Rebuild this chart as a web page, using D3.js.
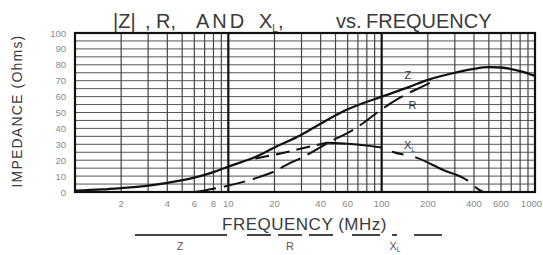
<!DOCTYPE html>
<html>
<head>
<meta charset="utf-8">
<script src="https://cdn.jsdelivr.net/npm/d3@7"></script>
<style>
  body { margin: 0; background: #fff; }
  svg text { font-family: "Liberation Sans", Arial, sans-serif; }
</style>
</head>
<body>
<div id="chart"></div>
<script>
// Curve data (frequency in MHz, impedance in ohms)
const zFreq = [1, 1.5, 2, 3, 4, 6, 8, 10, 15, 20, 30, 40, 60, 100, 150, 200, 300, 400, 500, 600, 800, 1000];
const zOhms = [0.8, 1.6, 2.5, 4, 5.7, 9, 12.5, 16, 22, 28, 36, 43, 52, 60, 66, 70.5, 75, 77.5, 78.5, 78.3, 76, 73];

const rFreq = [6, 7, 10, 16, 20, 25, 30, 45, 70, 100, 130, 200, 230];
const rOhms = [0, 1, 4, 9.5, 13, 18, 21.5, 31, 41, 52, 59, 68, 71];

const xlFreq = [15, 25, 32, 44, 60, 100, 120, 165, 250, 360, 430, 460];
const xlOhms = [21, 25.5, 28, 31, 30.3, 28, 25, 22, 14, 7.5, 1.5, 0];

const yTicks = [0, 10, 20, 30, 40, 50, 60, 70, 80, 90, 100];
const xTicks = [2, 4, 6, 8, 10, 20, 40, 60, 100, 200, 400, 600, 1000];

const W = 543, H = 255;
const svg = d3.select('#chart').append('svg')
  .attr('width', W)
  .attr('height', H);

const x = d3.scaleLog().domain([1, 1000]).range([75, 535]);
const y = d3.scaleLinear().domain([0, 100]).range([192, 33]);

// Grid - horizontal every 5 ohms
svg.append('g').selectAll('line')
  .data(d3.range(5, 100, 5))
  .enter().append('line')
    .attr('x1', x(1)).attr('x2', x(1000))
    .attr('y1', d => y(d)).attr('y2', d => y(d))
    .attr('stroke', '#555')
    .attr('stroke-width', 1);

// Grid - vertical log lines
const minor = [];
[1, 10, 100].forEach(dec => d3.range(2, 10).forEach(n => minor.push(n * dec)));
svg.append('g').selectAll('line')
  .data(minor)
  .enter().append('line')
    .attr('x1', d => x(d)).attr('x2', d => x(d))
    .attr('y1', y(0)).attr('y2', y(100))
    .attr('stroke', '#444')
    .attr('stroke-width', 1.2);

// decade lines
svg.append('g').selectAll('line')
  .data([10, 100])
  .enter().append('line')
    .attr('x1', d => x(d)).attr('x2', d => x(d))
    .attr('y1', y(0)).attr('y2', y(100))
    .attr('stroke', '#111')
    .attr('stroke-width', 2.2);

// frame
svg.append('rect')
  .attr('x', x(1)).attr('y', y(100))
  .attr('width', x(1000) - x(1))
  .attr('height', y(0) - y(100))
  .attr('fill', 'none')
  .attr('stroke', '#111')
  .attr('stroke-width', 2.2);

// tick labels
svg.append('g').selectAll('text')
  .data(yTicks)
  .enter().append('text')
    .attr('x', 66)
    .attr('y', d => y(d) + 3.5)
    .attr('text-anchor', 'end')
    .style('font-size', '9.5px')
    .style('fill', '#888')
    .text(d => d);

svg.append('g').selectAll('text')
  .data(xTicks)
  .enter().append('text')
    .attr('x', d => d === 1000 ? W - 1 : x(d))
    .attr('y', 207)
    .attr('text-anchor', d => d === 1000 ? 'end' : 'middle')
    .style('font-size', '9.5px')
    .style('fill', '#888')
    .text(d => d);

// curves
const line = d3.line()
  .x(d => x(d[0]))
  .y(d => y(d[1]))
  .curve(d3.curveMonotoneX);

function drawCurve(pts, dash, width) {
  svg.append('path')
    .attr('d', line(pts))
    .attr('fill', 'none')
    .attr('stroke', '#111')
    .attr('stroke-width', width)
    .attr('stroke-dasharray', dash);
}

drawCurve(d3.zip(zFreq, zOhms), null, 2.3);
drawCurve(d3.zip(rFreq, rOhms), '22,8', 2);

// X_L drawn in three pieces: dashed rise, solid plateau, dash-dot fall
const xlPts = d3.zip(xlFreq, xlOhms);
drawCurve(xlPts.filter(d => d[0] <= 44), '14,7', 2);
drawCurve(xlPts.filter(d => d[0] >= 44 && d[0] <= 100), null, 2);
drawCurve(xlPts.filter(d => d[0] >= 100), '0,11,12,12,58,9,40', 2);

// curve labels
svg.append('text')
  .attr('x', x(148)).attr('y', y(73.6) + 4)
  .attr('text-anchor', 'middle')
  .style('font-size', '11px').style('fill', '#333')
  .text('Z');
svg.append('text')
  .attr('x', x(159)).attr('y', y(54.7) + 4)
  .attr('text-anchor', 'middle')
  .style('font-size', '11px').style('fill', '#333')
  .text('R');
const xl = svg.append('text')
  .attr('x', x(152)).attr('y', y(29.6) + 4)
  .attr('text-anchor', 'middle')
  .style('font-size', '11px').style('fill', '#333');
xl.append('tspan').text('X');
xl.append('tspan').attr('dy', 3).style('font-size', '7px').text('L');

// title
const title = svg.append('text')
  .attr('y', 28)
  .style('font-size', '20px')
  .style('fill', '#3a3a3a');
title.append('tspan').attr('x', 113).text('|Z|');
title.append('tspan').attr('x', 145).text(', R,');
title.append('tspan').attr('x', 196).style('letter-spacing', '3px').text('AND');
title.append('tspan').attr('x', 259).text('X');
title.append('tspan').attr('dy', 4).style('font-size', '10px').text('L');
title.append('tspan').attr('dy', -4).text(',');
title.append('tspan').attr('x', 336).text('vs.');
title.append('tspan').attr('x', 366).text('FREQUENCY');

// y axis label
svg.append('text')
  .attr('transform', 'translate(22,111) rotate(-90)')
  .attr('text-anchor', 'middle')
  .style('font-size', '14px')
  .style('letter-spacing', '1.2px')
  .style('fill', '#3a3a3a')
  .text('IMPEDANCE  (Ohms)');

// x axis label
svg.append('text')
  .attr('x', 222).attr('y', 230)
  .style('font-size', '17px')
  .style('letter-spacing', '0.5px')
  .style('fill', '#3a3a3a')
  .text('FREQUENCY  (MHz)');

// legend
const legend = svg.append('g');
const items = [
  { name: 'Z', x1: 135, x2: 227, dash: null, lx: 180 },
  { name: 'R', x1: 247, x2: 335, dash: '24,7', lx: 290 },
  { name: 'X', x1: 352, x2: 442, dash: '28,12,5,17', lx: 395 }
];
items.forEach(it => {
  legend.append('line')
    .attr('x1', it.x1).attr('x2', it.x2)
    .attr('y1', 235).attr('y2', 235)
    .attr('stroke', '#444')
    .attr('stroke-width', 2)
    .attr('stroke-dasharray', it.dash);
  const t = legend.append('text')
    .attr('x', it.lx).attr('y', 250)
    .attr('text-anchor', 'middle')
    .style('font-size', '11px')
    .style('fill', '#555');
  t.append('tspan').text(it.name);
  if (it.name === 'X') t.append('tspan').attr('dy', 2).style('font-size', '7px').text('L');
});
</script>
</body>
</html>
